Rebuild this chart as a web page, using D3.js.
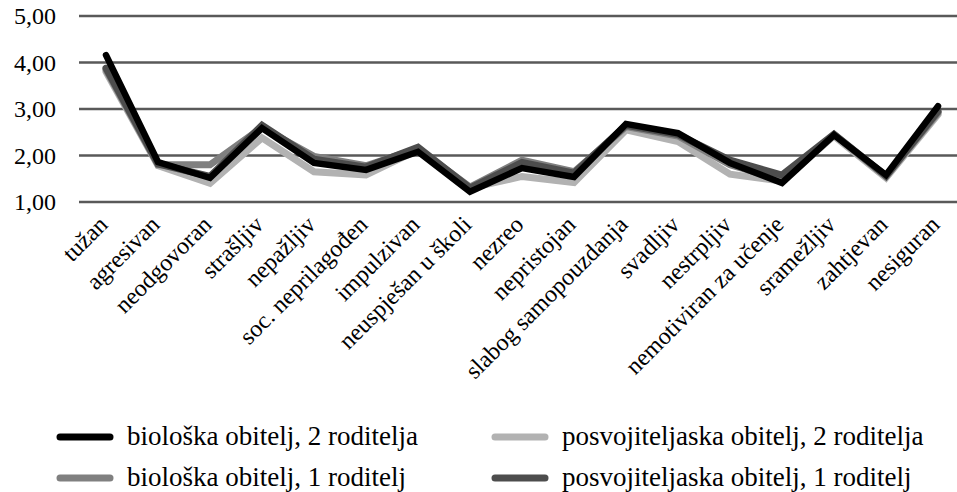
<!DOCTYPE html>
<html><head><meta charset="utf-8">
<script src="https://cdn.jsdelivr.net/npm/d3@7"></script>
<style>
html,body{margin:0;padding:0;background:#fff;overflow:hidden}
text{font-family:"Liberation Serif","Times New Roman",serif;fill:#000}
</style></head><body>
<svg id="c" width="957" height="492"></svg>
<script>
const categories = ["tužan","agresivan","neodgovoran","strašljiv","nepažljiv","soc. neprilagođen","impulzivan","neuspješan u školi","nezreo","nepristojan","slabog samopouzdanja","svadljiv","nestrpljiv","nemotiviran za učenje","sramežljiv","zahtjevan","nesiguran"];
const bioTwo = [4.16,1.86,1.52,2.59,1.84,1.69,2.08,1.22,1.73,1.54,2.68,2.48,1.84,1.41,2.44,1.58,3.06];
const bioOne = [3.85,1.80,1.80,2.60,1.98,1.78,2.15,1.32,1.90,1.65,2.62,2.42,1.80,1.48,2.45,1.55,2.92];
const adoptTwo = [3.80,1.78,1.40,2.38,1.65,1.58,2.12,1.30,1.55,1.42,2.55,2.30,1.60,1.45,2.42,1.52,2.88];
const adoptOne = [3.88,1.82,1.55,2.65,1.92,1.75,2.18,1.30,1.85,1.62,2.65,2.45,1.90,1.58,2.46,1.56,2.95];
const seriesNames = ["biološka obitelj, 2 roditelja","posvojiteljaska obitelj, 2 roditelja","biološka obitelj, 1 roditelj","posvojiteljaska obitelj, 1 roditelj"];
const yTicks = [1,2,3,4,5];

const series = [
  {name: seriesNames[0], values: bioTwo, color: "#000000", w: 6.5},
  {name: seriesNames[1], values: adoptTwo, color: "#b2b2b2", w: 7},
  {name: seriesNames[2], values: bioOne, color: "#808080", w: 7},
  {name: seriesNames[3], values: adoptOne, color: "#4d4d4d", w: 7}
];

const svg = d3.select("#c");
const x = d3.scaleBand().domain(categories).range([80, 964]);
const y = d3.scaleLinear().domain([1,5]).range([202, 16]);

// gridlines
svg.append("g").selectAll("line").data(yTicks).join("line")
  .attr("x1", 79).attr("x2", 964)
  .attr("y1", d => y(d)).attr("y2", d => y(d))
  .attr("stroke", "#595959").attr("stroke-width", 2.5);

// y labels
svg.append("g").selectAll("text").data(yTicks).join("text")
  .attr("x", 56).attr("y", d => y(d)).attr("dy", "0.35em")
  .attr("text-anchor", "end").attr("font-size", 24)
  .text(d => d3.format(".2f")(d).replace(".", ","));

// x labels
svg.append("g").selectAll("text").data(categories).join("text")
  .attr("text-anchor", "end").attr("font-size", 24)
  .attr("transform", d => `translate(${x(d) + x.bandwidth()/2 + 3},${226}) rotate(-45)`)
  .text(d => d);

// lines
const line = d3.line().x((d,i) => x(categories[i]) + x.bandwidth()/2).y(d => y(d));
const drawOrder = [series[1], series[2], series[3], series[0]];
svg.append("g").selectAll("path").data(drawOrder).join("path")
  .attr("d", d => line(d.values))
  .attr("fill", "none").attr("stroke", d => d.color).attr("stroke-width", d => d.w)
  .attr("stroke-linejoin", "miter").attr("stroke-linecap", "round");

// legend
const leg = [
  {s: series[0], lx: 57, ty: 437},
  {s: series[1], lx: 492, ty: 437},
  {s: series[2], lx: 57, ty: 478},
  {s: series[3], lx: 492, ty: 478}
];
const lg = svg.append("g");
leg.forEach(l => {
  lg.append("line").attr("x1", l.lx + 3).attr("x2", l.lx + 53)
    .attr("y1", l.ty).attr("y2", l.ty)
    .attr("stroke", l.s.color).attr("stroke-width", 7).attr("stroke-linecap", "round");
  lg.append("text").attr("x", l.lx + 70).attr("y", l.ty + 8)
    .attr("font-size", 27).text(l.s.name);
});
</script>
</body></html>
